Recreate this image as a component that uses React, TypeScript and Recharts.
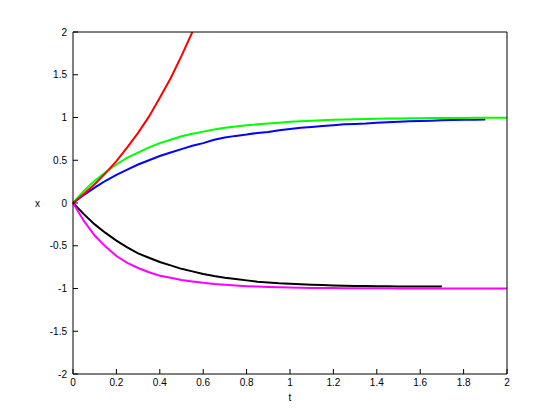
import { Line, LineChart, XAxis, YAxis } from 'recharts'

const tValues = [
  0, 0.05, 0.1, 0.15, 0.2, 0.25, 0.3, 0.35, 0.4, 0.45, 0.5, 0.55, 0.6, 0.65, 0.7, 0.75, 0.8, 0.85, 0.9, 0.95,
  1, 1.05, 1.1, 1.15, 1.2, 1.25, 1.3, 1.35, 1.4, 1.45, 1.5, 1.55, 1.6, 1.65, 1.7, 1.75, 1.8, 1.85, 1.9, 1.95, 2,
]

const redValues = [0, 0.105, 0.22, 0.35, 0.49, 0.65, 0.82, 1.01, 1.23, 1.46, 1.72, 2.0]

const greenValues = [
  0, 0.14, 0.26, 0.36, 0.45, 0.53, 0.59, 0.65, 0.7, 0.74, 0.78, 0.81, 0.835, 0.86, 0.88, 0.895, 0.91, 0.92, 0.93,
  0.94, 0.95, 0.957, 0.963, 0.968, 0.973, 0.976, 0.98, 0.983, 0.985, 0.987, 0.989, 0.99, 0.992, 0.993, 0.994,
  0.995, 0.995, 0.996, 0.997, 0.997, 0.998,
]

const blueValues = [
  0, 0.095, 0.18, 0.26, 0.33, 0.39, 0.45, 0.5, 0.55, 0.59, 0.63, 0.67, 0.7, 0.74, 0.765, 0.785, 0.8, 0.82, 0.83,
  0.85, 0.865, 0.88, 0.89, 0.9, 0.91, 0.92, 0.925, 0.93, 0.94, 0.945, 0.95, 0.955, 0.96, 0.963, 0.967, 0.97,
  0.973, 0.975, 0.977,
]

const blackValues = [
  0, -0.13, -0.25, -0.35, -0.44, -0.52, -0.59, -0.64, -0.69, -0.73, -0.77, -0.8, -0.83, -0.855, -0.875, -0.89,
  -0.905, -0.92, -0.93, -0.94, -0.945, -0.95, -0.955, -0.96, -0.965, -0.968, -0.97, -0.972, -0.974, -0.975,
  -0.976, -0.977, -0.977, -0.978, -0.978,
]

const magentaValues = [
  0, -0.21, -0.38, -0.51, -0.62, -0.7, -0.76, -0.81, -0.85, -0.875, -0.9, -0.918, -0.934, -0.947, -0.957,
  -0.966, -0.973, -0.978, -0.983, -0.986, -0.989, -0.991, -0.993, -0.994, -0.995, -0.996, -0.997, -0.997,
  -0.998, -0.998, -0.999, -0.999, -0.999, -1, -1, -1, -1, -1, -1, -1, -1,
]

const xTicks = [0, 0.2, 0.4, 0.6, 0.8, 1, 1.2, 1.4, 1.6, 1.8, 2]
const yTicks = [-2, -1.5, -1, -0.5, 0, 0.5, 1, 1.5, 2]

const data = tValues.map((t, i) => ({
  t,
  red: redValues[i],
  green: greenValues[i],
  blue: blueValues[i],
  black: blackValues[i],
  magenta: magentaValues[i],
}))

const font = { fontSize: 10, fill: '#000', fontFamily: 'Liberation Sans, Arial, sans-serif' }
const axisStroke = { stroke: '#000' }

export default function App() {
  return (
    <div style={{ position: 'absolute', left: 0, top: 0, background: '#fff' }}>
      <LineChart width={560} height={420} data={data} margin={{ top: 22, right: 43, bottom: 16, left: 33 }}>
        <XAxis
          dataKey='t'
          type='number'
          domain={[0, 2]}
          ticks={xTicks}
          tickSize={-5}
          tickMargin={10}
          tick={font}
          axisLine={axisStroke}
          tickLine={axisStroke}
          height={30}
          label={{ value: 't', position: 'insideBottom', offset: 3, ...font }}
        />
        <XAxis
          xAxisId='top'
          orientation='top'
          dataKey='t'
          type='number'
          domain={[0, 2]}
          ticks={xTicks}
          tickSize={-5}
          tick={false}
          axisLine={axisStroke}
          tickLine={axisStroke}
          height={10}
        />
        <YAxis
          type='number'
          domain={[-2, 2]}
          ticks={yTicks}
          allowDataOverflow
          tickSize={-5}
          tickMargin={11}
          tick={font}
          axisLine={axisStroke}
          tickLine={axisStroke}
          width={40}
          label={{ value: 'x', position: 'insideLeft', offset: 2, ...font }}
        />
        <YAxis
          yAxisId='right'
          orientation='right'
          type='number'
          domain={[-2, 2]}
          ticks={yTicks}
          tickSize={-5}
          tick={false}
          axisLine={axisStroke}
          tickLine={axisStroke}
          width={10}
        />
        <Line dataKey='blue' stroke='#0000ff' strokeWidth={2} dot={false} isAnimationActive={false} />
        <Line dataKey='green' stroke='#00ff00' strokeWidth={2} dot={false} isAnimationActive={false} />
        <Line dataKey='red' stroke='#ff0000' strokeWidth={2} dot={false} isAnimationActive={false} />
        <Line dataKey='black' stroke='#000000' strokeWidth={2} dot={false} isAnimationActive={false} />
        <Line dataKey='magenta' stroke='#ff00ff' strokeWidth={2} dot={false} isAnimationActive={false} />
      </LineChart>
    </div>
  )
}
